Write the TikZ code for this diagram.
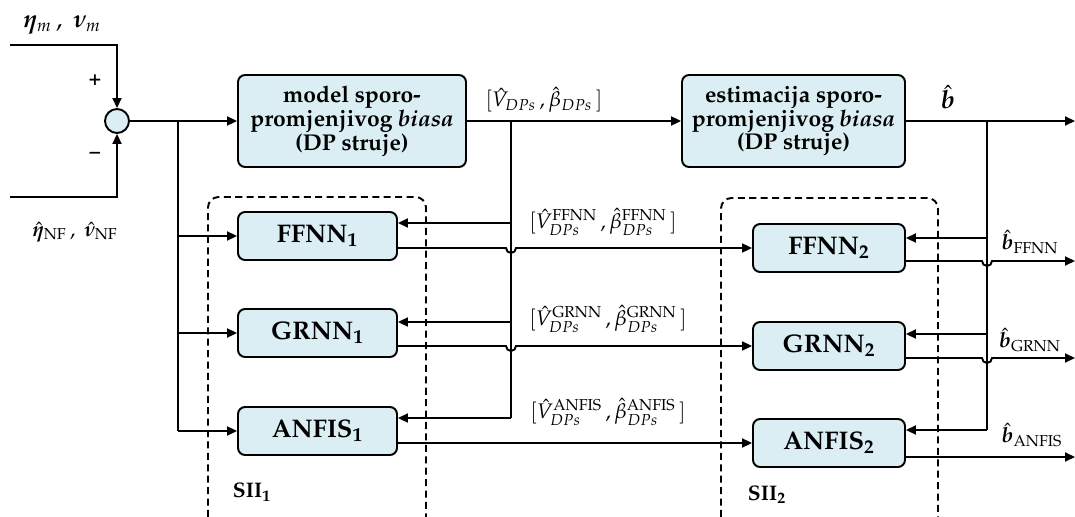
\documentclass[tikz,border=0pt]{standalone}
\usepackage[T1]{fontenc}
\usepackage{mathpazo}
\usepackage{bm}
\usetikzlibrary{arrows.meta}
\definecolor{boxblue}{HTML}{DAEEF3}
\tikzset{
  blok/.style = {draw, fill = boxblue, rounded corners = 4pt, line width = 1.1pt,
    align = center, inner sep = 0pt, font = \fontsize{13}{13.5}\selectfont\bfseries},
  mreza/.style = {blok, minimum height = .96cm, font = \fontsize{14.5}{15}\selectfont\bfseries},
  arr/.style = {-{Triangle[length = 2mm, width = 1.8mm]}},
  sii/.style = {dashed, dash pattern = on 4pt off 2.5pt, rounded corners = 6pt}
}
\begin{document}
\begin{tikzpicture}[x = .02cm, y = -.02cm, line width = 1.1pt]
    \useasboundingbox (0,0) rectangle (1075,517);
    % sumator i ulazi
    \node [draw, circle, fill = boxblue, minimum size = .48cm, inner sep = 0pt] (sum) at (117,121) {};
    \coordinate (mjIn) at (10,45);
    \coordinate (nfIn) at (10,197);
    \draw [arr] (mjIn) -| (sum.north);
    \draw [arr] (nfIn) -| (sum.south);
    \node at (62,25) {\Large $\bm{\eta}_{m}\,,\ \bm{\nu}_{m}$};
    \node at (75,232) {\large $\hat{\bm{\eta}}_{\mathrm{NF}}\,,\ \hat{\bm{\nu}}_{\mathrm{NF}}$};
    \node at (95,80) {\large\textbf{+}};
    \node at (95,155) {\large\textbf{--}};
    % gornji blokovi
    \node [blok, minimum width = 4.56cm, minimum height = 1.84cm] (model) at (352,121)
      {model sporo-\\promjenjivog \textit{biasa}\\(DP struje)};
    \node [blok, minimum width = 4.46cm, minimum height = 1.84cm] (estim) at (793.5,121)
      {estimacija sporo-\\promjenjivog \textit{biasa}\\(DP struje)};
    % SII 1
    \node [mreza, minimum width = 3.18cm] (ffnnA) at (317.5,236) {FFNN$_{\mathbf{1}}$};
    \node [mreza, minimum width = 3.18cm] (grnnA) at (317.5,333) {GRNN$_{\mathbf{1}}$};
    \node [mreza, minimum width = 3.18cm] (anfisA) at (317.5,431) {ANFIS$_{\mathbf{1}}$};
    \draw [sii] (208,517) -- (208,197) -- (426,197) -- (426,517);
    \node at (252,492) {\large\bfseries SII$_{\mathbf{1}}$};
    % SII 2
    \node [mreza, minimum width = 3.04cm] (ffnnB) at (829,248) {FFNN$_{\mathbf{2}}$};
    \node [mreza, minimum width = 3.04cm] (grnnB) at (829,346) {GRNN$_{\mathbf{2}}$};
    \node [mreza, minimum width = 3.04cm] (anfisB) at (829,443) {ANFIS$_{\mathbf{2}}$};
    \draw [sii] (721,517) -- (721,198) -- (938,198) -- (938,517);
    \node at (767,495) {\large\bfseries SII$_{\mathbf{2}}$};
    % glavna linija
    \coordinate (jA) at (178,121);
    \coordinate (jB) at (511,121);
    \coordinate (jC) at (987,121);
    \coordinate (bOut) at (1075,121);
    \draw [arr] (sum.east) -- (model.west);
    \draw [arr] (model.east) -- (estim.west);
    \draw [arr] (estim.east) -- (bOut);
    \node at (544,100) {\large $[\hat{V}_{DPs}\,, \hat{\beta}_{DPs}\,]$};
    \node at (948,97) {\Large $\hat{\bm{b}}$};
    % ulazi u SII 1
    \draw (jA) -- (jA |- anfisA);
    \draw [arr] (jA |- ffnnA) -- (ffnnA.west);
    \draw [arr] (jA |- grnnA) -- (grnnA.west);
    \draw [arr] (jA |- anfisA) -- (anfisA.west);
    % povratne veze DP
    \coordinate (tA) at (511,223);
    \coordinate (tB) at (511,322);
    \coordinate (tC) at (511,418);
    \draw (jB) -- (tC);
    \draw [arr] (tA) -- (ffnnA.east |- tA);
    \draw [arr] (tB) -- (grnnA.east |- tB);
    \draw [arr] (tC) -- (anfisA.east |- tC);
    \node at (603,222) {\large $[\hat{V}_{DPs}^{\mathrm{FFNN}}\,, \hat{\beta}_{DPs}^{\mathrm{FFNN}}\,]$};
    \node at (608,319) {\large $[\hat{V}_{DPs}^{\mathrm{GRNN}}\,, \hat{\beta}_{DPs}^{\mathrm{GRNN}}\,]$};
    \node at (608,412) {\large $[\hat{V}_{DPs}^{\mathrm{ANFIS}}\,, \hat{\beta}_{DPs}^{\mathrm{ANFIS}}\,]$};
    % SII 1 -> SII 2
    \draw [arr] (ffnnA.east |- ffnnB) -- (506,248) arc [start angle = 180, end angle = 0, radius = 5] -- (ffnnB.west);
    \draw [arr] (grnnA.east |- grnnB) -- (506,346) arc [start angle = 180, end angle = 0, radius = 5] -- (grnnB.west);
    \draw [arr] (anfisA.east |- anfisB) -- (anfisB.west);
    % povratne veze b
    \coordinate (uA) at (987,238);
    \coordinate (uB) at (987,334);
    \coordinate (uC) at (987,430);
    \draw (jC) -- (uC);
    \draw [arr] (uA) -- (ffnnB.east |- uA);
    \draw [arr] (uB) -- (grnnB.east |- uB);
    \draw [arr] (uC) -- (anfisB.east |- uC);
    % izlazi
    \coordinate (oA) at (1075,261);
    \coordinate (oB) at (1075,358);
    \coordinate (oC) at (1075,457);
    \draw [arr] (ffnnB.east |- oA) -- (982,261) arc [start angle = 180, end angle = 0, radius = 5] -- (oA);
    \draw [arr] (grnnB.east |- oB) -- (982,358) arc [start angle = 180, end angle = 0, radius = 5] -- (oB);
    \draw [arr] (anfisB.east |- oC) -- (oC);
    \node at (1030,242) {\large $\hat{\bm{b}}_{\mathrm{FFNN}}$};
    \node at (1030,340) {\large $\hat{\bm{b}}_{\mathrm{GRNN}}$};
    \node at (1032,435) {\large $\hat{\bm{b}}_{\mathrm{ANFIS}}$};
\end{tikzpicture}
\end{document}
